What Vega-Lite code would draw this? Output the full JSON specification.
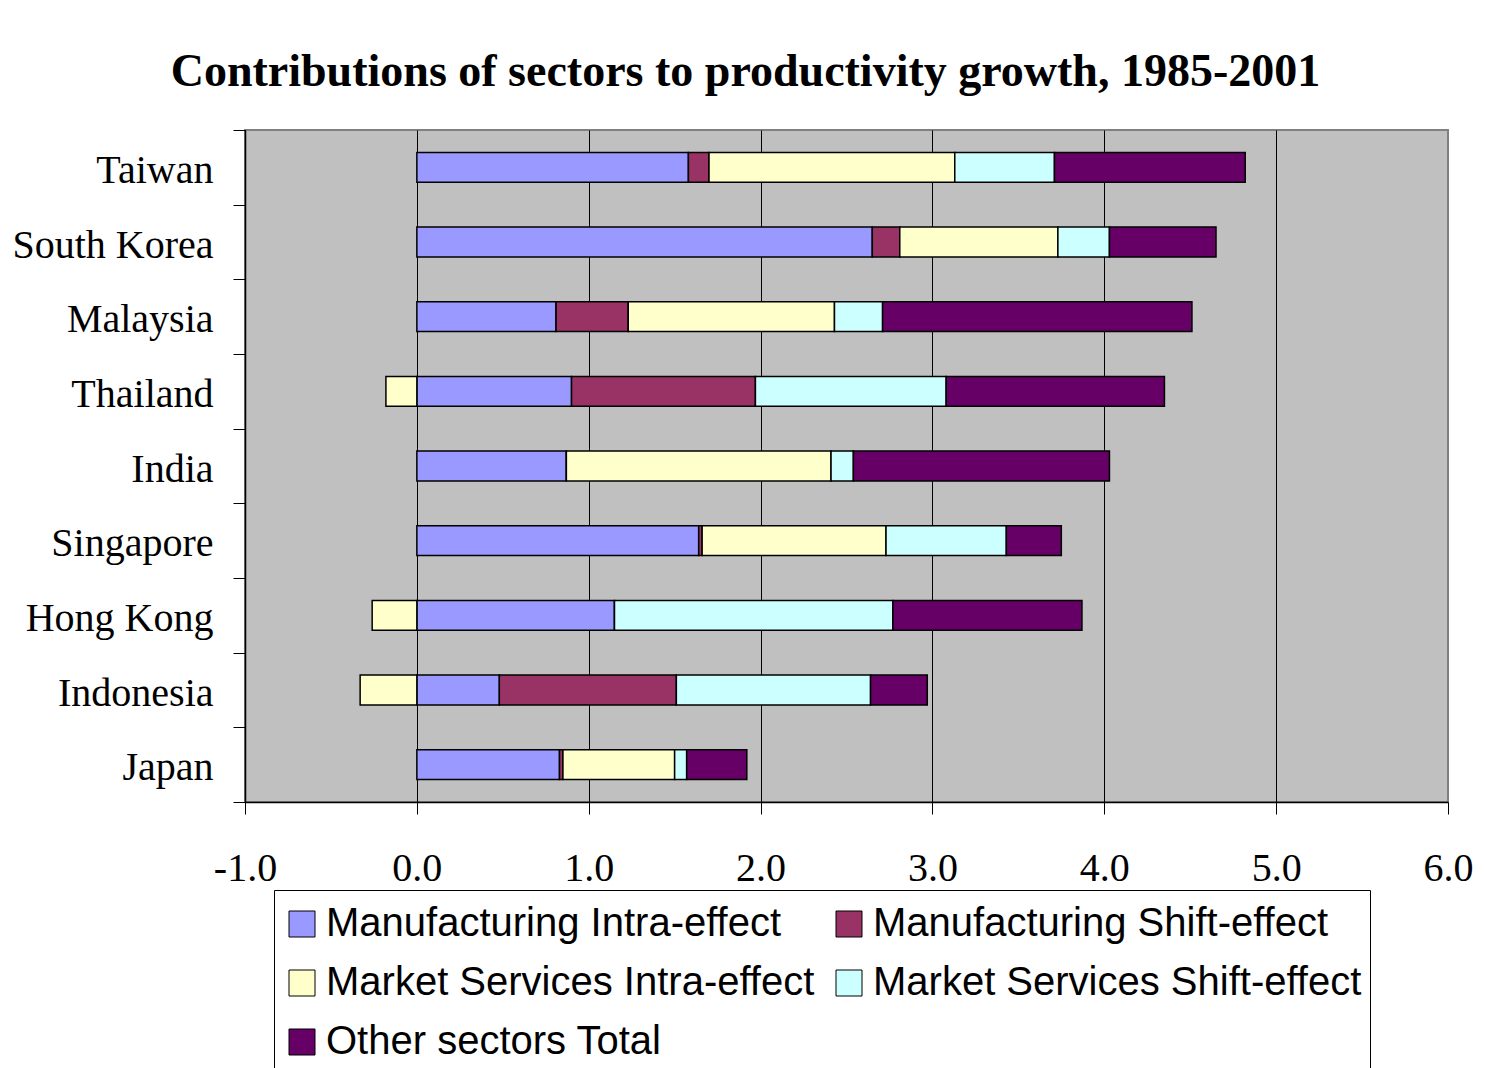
{
  "$schema": "https://vega.github.io/schema/vega-lite/v6.json",
  "autosize": "none",
  "width": 1203,
  "height": 672,
  "padding": {"left": 245, "top": 130, "right": 37, "bottom": 266},
  "background": "white",
  "title": {
    "text": "Contributions of sectors to productivity growth, 1985-2001",
    "font": "Liberation Serif",
    "fontSize": 46,
    "fontWeight": "bold",
    "color": "black",
    "anchor": "middle",
    "dx": -101,
    "offset": 14
  },
  "config": {
    "view": {"fill": "#C0C0C0", "stroke": "#808080", "strokeWidth": 2}
  },
  "data": {
    "values": [
      {"country": "Taiwan", "sector": "Manufacturing Intra-effect", "ord": 1, "value": 1.58},
      {"country": "Taiwan", "sector": "Manufacturing Shift-effect", "ord": 2, "value": 0.12},
      {"country": "Taiwan", "sector": "Market Services Intra-effect", "ord": 3, "value": 1.43},
      {"country": "Taiwan", "sector": "Market Services Shift-effect", "ord": 4, "value": 0.58},
      {"country": "Taiwan", "sector": "Other sectors Total", "ord": 5, "value": 1.11},
      {"country": "South Korea", "sector": "Manufacturing Intra-effect", "ord": 1, "value": 2.65},
      {"country": "South Korea", "sector": "Manufacturing Shift-effect", "ord": 2, "value": 0.16},
      {"country": "South Korea", "sector": "Market Services Intra-effect", "ord": 3, "value": 0.92},
      {"country": "South Korea", "sector": "Market Services Shift-effect", "ord": 4, "value": 0.30},
      {"country": "South Korea", "sector": "Other sectors Total", "ord": 5, "value": 0.62},
      {"country": "Malaysia", "sector": "Manufacturing Intra-effect", "ord": 1, "value": 0.81},
      {"country": "Malaysia", "sector": "Manufacturing Shift-effect", "ord": 2, "value": 0.42},
      {"country": "Malaysia", "sector": "Market Services Intra-effect", "ord": 3, "value": 1.20},
      {"country": "Malaysia", "sector": "Market Services Shift-effect", "ord": 4, "value": 0.28},
      {"country": "Malaysia", "sector": "Other sectors Total", "ord": 5, "value": 1.80},
      {"country": "Thailand", "sector": "Manufacturing Intra-effect", "ord": 1, "value": 0.90},
      {"country": "Thailand", "sector": "Manufacturing Shift-effect", "ord": 2, "value": 1.07},
      {"country": "Thailand", "sector": "Market Services Intra-effect", "ord": 3, "value": -0.18},
      {"country": "Thailand", "sector": "Market Services Shift-effect", "ord": 4, "value": 1.11},
      {"country": "Thailand", "sector": "Other sectors Total", "ord": 5, "value": 1.27},
      {"country": "India", "sector": "Manufacturing Intra-effect", "ord": 1, "value": 0.87},
      {"country": "India", "sector": "Manufacturing Shift-effect", "ord": 2, "value": 0.0},
      {"country": "India", "sector": "Market Services Intra-effect", "ord": 3, "value": 1.54},
      {"country": "India", "sector": "Market Services Shift-effect", "ord": 4, "value": 0.13},
      {"country": "India", "sector": "Other sectors Total", "ord": 5, "value": 1.49},
      {"country": "Singapore", "sector": "Manufacturing Intra-effect", "ord": 1, "value": 1.64},
      {"country": "Singapore", "sector": "Manufacturing Shift-effect", "ord": 2, "value": 0.02},
      {"country": "Singapore", "sector": "Market Services Intra-effect", "ord": 3, "value": 1.07},
      {"country": "Singapore", "sector": "Market Services Shift-effect", "ord": 4, "value": 0.70},
      {"country": "Singapore", "sector": "Other sectors Total", "ord": 5, "value": 0.32},
      {"country": "Hong Kong", "sector": "Manufacturing Intra-effect", "ord": 1, "value": 1.15},
      {"country": "Hong Kong", "sector": "Manufacturing Shift-effect", "ord": 2, "value": 0.0},
      {"country": "Hong Kong", "sector": "Market Services Intra-effect", "ord": 3, "value": -0.26},
      {"country": "Hong Kong", "sector": "Market Services Shift-effect", "ord": 4, "value": 1.62},
      {"country": "Hong Kong", "sector": "Other sectors Total", "ord": 5, "value": 1.10},
      {"country": "Indonesia", "sector": "Manufacturing Intra-effect", "ord": 1, "value": 0.48},
      {"country": "Indonesia", "sector": "Manufacturing Shift-effect", "ord": 2, "value": 1.03},
      {"country": "Indonesia", "sector": "Market Services Intra-effect", "ord": 3, "value": -0.33},
      {"country": "Indonesia", "sector": "Market Services Shift-effect", "ord": 4, "value": 1.13},
      {"country": "Indonesia", "sector": "Other sectors Total", "ord": 5, "value": 0.33},
      {"country": "Japan", "sector": "Manufacturing Intra-effect", "ord": 1, "value": 0.83},
      {"country": "Japan", "sector": "Manufacturing Shift-effect", "ord": 2, "value": 0.02},
      {"country": "Japan", "sector": "Market Services Intra-effect", "ord": 3, "value": 0.65},
      {"country": "Japan", "sector": "Market Services Shift-effect", "ord": 4, "value": 0.07},
      {"country": "Japan", "sector": "Other sectors Total", "ord": 5, "value": 0.35}
    ]
  },
  "mark": {"type": "bar", "stroke": "black", "strokeWidth": 1.5, "height": {"band": 0.4}},
  "encoding": {
    "y": {
      "field": "country",
      "type": "nominal",
      "sort": ["Taiwan", "South Korea", "Malaysia", "Thailand", "India", "Singapore", "Hong Kong", "Indonesia", "Japan"],
      "scale": {"paddingInner": 0, "paddingOuter": 0},
      "axis": {
        "title": null,
        "tickBand": "extent",
        "labelFont": "Liberation Serif",
        "labelFontSize": 40,
        "labelColor": "black",
        "labelPadding": 20,
        "labelOffset": 3,
        "labelLimit": 400,
        "tickSize": 12,
        "tickColor": "black",
        "tickWidth": 1,
        "domainColor": "black",
        "domainWidth": 1.5,
        "grid": false
      }
    },
    "x": {
      "field": "value",
      "type": "quantitative",
      "stack": "zero",
      "scale": {"domain": [-1, 6], "nice": false, "zero": false},
      "axis": {
        "title": null,
        "values": [-1, 0, 1, 2, 3, 4, 5, 6],
        "format": ".1f",
        "labelExpr": "replace(datum.label, '\u2212', '-')",
        "labelFlush": false,
        "labelFont": "Liberation Serif",
        "labelFontSize": 40,
        "labelColor": "black",
        "labelPadding": 34,
        "tickSize": 12,
        "tickColor": "black",
        "tickWidth": 1,
        "domainColor": "black",
        "domainWidth": 1.5,
        "grid": true,
        "gridColor": {"condition": {"test": "datum.value == 6", "value": "#808080"}, "value": "black"},
        "gridWidth": 1,
        "gridOpacity": 1
      }
    },
    "order": {"field": "ord", "type": "quantitative"},
    "color": {
      "field": "sector",
      "type": "nominal",
      "scale": {
        "domain": ["Manufacturing Intra-effect", "Manufacturing Shift-effect", "Market Services Intra-effect", "Market Services Shift-effect", "Other sectors Total"],
        "range": ["#9999FF", "#993366", "#FFFFCC", "#CCFFFF", "#660066"]
      },
      "legend": {
        "title": " ",
        "titleFontSize": 6,
        "titlePadding": 0,
        "orient": "none",
        "legendX": 29,
        "legendY": 760,
        "direction": "horizontal",
        "columns": 2,
        "columnPadding": 14,
        "rowPadding": 19,
        "padding": 8,
        "strokeColor": "black",
        "fillColor": "white",
        "symbolType": "square",
        "symbolSize": 676,
        "symbolStrokeColor": "black",
        "symbolStrokeWidth": 1,
        "symbolOpacity": 1,
        "labelFont": "Liberation Sans",
        "labelFontSize": 40,
        "labelColor": "black",
        "labelOffset": 4,
        "labelLimit": 800
      }
    }
  }
}
